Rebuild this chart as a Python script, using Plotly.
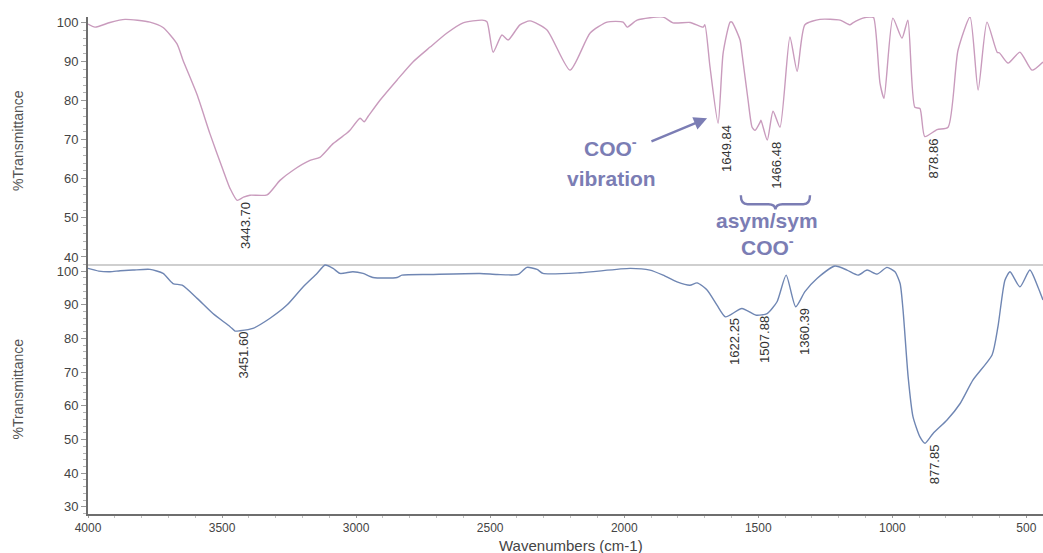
import plotly.graph_objects as go
from plotly.subplots import make_subplots

# ---- upper spectrum (wavenumber cm-1, %T) ----
top_wn = [4000, 3974, 3918, 3862, 3769, 3720, 3668, 3646, 3593, 3545, 3496, 3470,
          3443.70, 3420, 3396, 3332, 3284, 3235, 3172, 3135, 3086, 3034, 3023, 2985,
          2970, 2955, 2911, 2847, 2788, 2724, 2661, 2601, 2530, 2512, 2489, 2456,
          2433, 2389, 2351, 2288, 2202, 2127, 2064, 2004, 1989, 1952, 1855, 1818,
          1754, 1706, 1699, 1680, 1649.84, 1631, 1605, 1598, 1568, 1561, 1538, 1523,
          1512, 1493, 1490, 1466.48, 1445, 1419, 1382, 1355, 1326, 1270, 1195, 1158,
          1147, 1110, 1084, 1070, 1046, 1031, 998, 964, 942, 916, 897, 878.86, 833,
          792, 755, 710, 680, 647, 609, 600, 568, 524, 479, 438]
top_T = [99.6, 98.8, 100.0, 100.8, 100.1, 98.7, 94.5, 90.4, 81.5, 71.5, 62.2, 57.5,
         54.5, 55.3, 55.8, 55.9, 59.6, 62.2, 64.7, 65.5, 69.0, 71.7, 72.4, 75.5,
         74.6, 76.0, 80.1, 85.3, 89.9, 93.7, 97.3, 99.9, 100.6, 100.2, 92.4, 96.8,
         95.5, 99.4, 100.4, 98.1, 87.8, 97.3, 100.1, 100.1, 98.8, 100.6, 101.4, 99.9,
         100.0, 98.8, 99.4, 88.6, 74.2, 92.2, 100.1, 100.1, 95.5, 92.2, 80.1, 73.2,
         72.4, 74.5, 75.0, 69.9, 77.3, 73.2, 96.3, 87.5, 99.4, 100.8, 100.6, 99.4,
         99.9, 101.1, 101.4, 101.3, 84.5, 80.6, 101.1, 96.0, 100.6, 78.3, 78.0, 70.8, 72.6,
         73.2, 92.9, 101.4, 82.7, 100.1, 92.4, 92.2, 89.6, 92.4, 87.8, 89.9]

# ---- lower spectrum ----
bot_wn = [4000, 3960, 3918, 3880, 3832, 3769, 3720, 3683, 3649, 3593, 3534, 3470,
          3451.60, 3433, 3385, 3321, 3258, 3198, 3146, 3116, 3086, 3060, 3012, 2974,
          2937, 2847, 2829, 2724, 2538, 2474, 2396, 2363, 2325, 2303, 2165, 1978,
          1904, 1855, 1803, 1755, 1728, 1691, 1654, 1622.25, 1561, 1507.88, 1467,
          1430, 1396, 1360.39, 1326, 1281, 1214, 1169, 1128, 1094, 1057, 1020, 990,
          971, 960, 941, 923, 897, 877.85, 848, 796, 747, 699, 628, 606, 580, 561,
          524, 487, 457, 438]
bot_T = [100.8, 100.0, 99.8, 100.1, 100.3, 100.5, 99.3, 96.3, 95.8, 91.9, 87.4, 83.5,
         82.2, 82.3, 83.0, 86.0, 89.9, 95.3, 99.3, 101.8, 100.8, 99.3, 99.8, 99.3,
         98.1, 98.1, 98.8, 99.0, 99.3, 99.0, 99.0, 101.1, 100.5, 99.3, 99.5, 100.8,
         100.3, 98.8, 96.8, 95.8, 96.5, 94.4, 89.9, 86.4, 88.9, 86.9, 87.4,
         90.9, 98.8, 89.4, 93.9, 97.8, 101.5, 100.3, 98.8, 100.3, 99.1, 101.1, 99.8,
         96.3, 88.4, 68.6, 56.8, 50.8, 48.9, 51.8, 55.8, 60.7, 67.7, 75.1, 83.5, 97.3, 99.8,
         95.3, 100.3, 95.3, 91.4]

# peak markers
top_peaks = [3443.70, 1649.84, 1466.48, 878.86]
top_peak_T = [54.5, 74.2, 69.9, 70.8]
bot_peaks = [3451.60, 1622.25, 1507.88, 1360.39, 877.85]
bot_peak_T = [82.2, 86.4, 86.9, 89.4, 48.9]

x_ticks = [4000, 3500, 3000, 2500, 2000, 1500, 1000, 500]

FONT = "Liberation Sans, Arial, sans-serif"
PURPLE = "#7b7db4"
TOP_COLOR = "#c99bbd"
BOT_COLOR = "#6f86b3"
AXIS = "#6e6e6e"

fig = make_subplots(rows=2, cols=1, shared_xaxes=True, vertical_spacing=0,
                    row_heights=[0.497, 0.503])

fig.add_trace(go.Scatter(x=top_wn, y=top_T, mode="lines",
                         line=dict(color=TOP_COLOR, width=1.4, shape="spline", smoothing=0.6),
                         hoverinfo="skip", showlegend=False), row=1, col=1)
fig.add_trace(go.Scatter(x=bot_wn, y=bot_T, mode="lines",
                         line=dict(color=BOT_COLOR, width=1.4, shape="spline", smoothing=0.6),
                         hoverinfo="skip", showlegend=False), row=2, col=1)

yaxis_common = dict(
    showline=True, linecolor=AXIS, linewidth=2, ticks="outside", ticklen=5,
    tickcolor="#9a9a9a", tick0=0, dtick=10, showgrid=False, zeroline=False,
    tickfont=dict(family=FONT, size=13, color="#444"),
    minor=dict(dtick=2, ticks="outside", ticklen=3, tickcolor="#b5b5b5"),
)
fig.update_yaxes(range=[38.2, 101.4], **yaxis_common, row=1, col=1)
fig.update_yaxes(range=[27.9, 102.1], **yaxis_common, row=2, col=1)

fig.update_xaxes(range=[4000, 438], showgrid=False, zeroline=False, row=1, col=1,
                 showline=True, linecolor="#cfcfcf", linewidth=1.5,
                 ticks="", showticklabels=False)
fig.update_xaxes(range=[4000, 438], showgrid=False, zeroline=False, row=2, col=1,
                 showline=True, linecolor=AXIS, linewidth=2,
                 tickvals=x_ticks, ticks="outside", ticklen=2, tickcolor="#9a9a9a",
                 tickfont=dict(family=FONT, size=12, color="#444"),
                 minor=dict(dtick=100, ticks="outside", ticklen=2, tickcolor="#c0c0c0"))

annotations = []
# peak position labels
for wn, t in zip(top_peaks, top_peak_T):
    annotations.append(dict(x=wn, y=t, xref="x", yref="y", text=f"{wn:.2f}",
                            textangle=-90, xanchor="center", yanchor="top",
                            xshift=9, yshift=0, showarrow=False,
                            font=dict(family=FONT, size=13, color="#333")))
for wn, t in zip(bot_peaks, bot_peak_T):
    annotations.append(dict(x=wn, y=t, xref="x2", yref="y2", text=f"{wn:.2f}",
                            textangle=-90, xanchor="center", yanchor="top",
                            xshift=9, yshift=1, showarrow=False,
                            font=dict(family=FONT, size=13, color="#333")))

# axis titles
for yc in (0.7515, 0.2515):
    annotations.append(dict(x=-0.0738, y=yc, xref="paper", yref="paper",
                            text="%Transmittance", textangle=-90, showarrow=False,
                            xanchor="center", yanchor="middle",
                            font=dict(family=FONT, size=14, color="#555")))
annotations.append(dict(x=0.5058, y=-0.064, xref="paper", yref="paper",
                        text="Wavenumbers (cm-1)", showarrow=False,
                        xanchor="center", yanchor="middle",
                        font=dict(family=FONT, size=15, color="#444")))

# band assignments
bold = dict(family=FONT, size=21, color=PURPLE)
annotations += [
    dict(x=2053, y=68.1, xref="x", yref="y", text="<b>COO<sup>-</sup></b>",
         showarrow=False, xanchor="center", yanchor="middle", font=bold),
    dict(x=2049, y=60.1, xref="x", yref="y", text="<b>vibration</b>",
         showarrow=False, xanchor="center", yanchor="middle", font=bold),
    dict(x=1467, y=49.4, xref="x", yref="y", text="<b>asym/sym</b>",
         showarrow=False, xanchor="center", yanchor="middle", font=bold),
    dict(x=1467, y=42.8, xref="x", yref="y", text="<b>COO<sup>-</sup></b>",
         showarrow=False, xanchor="center", yanchor="middle", font=bold),
    dict(x=1691, y=75.5, ax=1904, ay=69.4, xref="x", yref="y", axref="x", ayref="y",
         text="", showarrow=True, arrowhead=2, arrowsize=1.1, arrowwidth=2.4,
         arrowcolor=PURPLE),
]

# brace grouping the carboxylate stretches
brace = ("M 1565,55.8 Q 1565,53.5 1540,53.5 L 1462,53.5 Q 1438,53.5 1436,52.2 "
         "Q 1434,53.5 1410,53.5 L 1332,53.5 Q 1307,53.5 1307,55.8")

fig.update_layout(
    width=1043, height=553,
    margin=dict(l=88, r=0, t=17, b=39),
    paper_bgcolor="white", plot_bgcolor="white",
    annotations=annotations,
    shapes=[dict(type="path", path=brace, xref="x", yref="y",
                 line=dict(color=PURPLE, width=2.4))],
    showlegend=False,
)

fig.write_html("out.html")
